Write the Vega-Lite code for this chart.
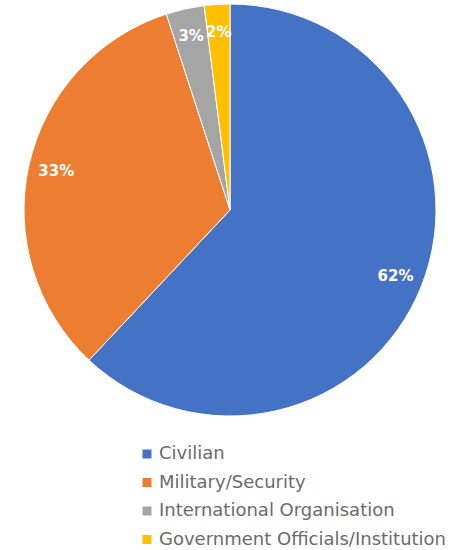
{
  "$schema": "https://vega.github.io/schema/vega-lite/v6.json",
  "width": 460,
  "height": 420,
  "padding": 0,
  "background": "white",
  "view": {"stroke": null},
  "data": {
    "values": [
      {"category": "Civilian", "value": 62, "label": "62%", "order": 1},
      {"category": "Military/Security", "value": 33, "label": "33%", "order": 2},
      {"category": "International Organisation", "value": 3, "label": "3%", "order": 3},
      {"category": "Government Officials/Institution", "value": 2, "label": "2%", "order": 4}
    ]
  },
  "encoding": {
    "theta": {"field": "value", "type": "quantitative", "stack": true},
    "order": {"field": "order", "type": "quantitative"}
  },
  "layer": [
    {
      "mark": {"type": "arc", "outerRadius": 206, "stroke": "white", "strokeWidth": 1},
      "encoding": {
        "color": {
          "field": "category",
          "type": "nominal",
          "sort": ["Civilian", "Military/Security", "International Organisation", "Government Officials/Institution"],
          "scale": {
            "domain": ["Civilian", "Military/Security", "International Organisation", "Government Officials/Institution"],
            "range": ["#4472C4", "#ED7D31", "#A5A5A5", "#FFC000"]
          },
          "legend": {
            "title": null,
            "orient": "none",
            "legendX": 138,
            "legendY": 445,
            "padding": 0,
            "symbolType": "square",
            "symbolSize": 81,
            "symbolStrokeWidth": 0,
            "labelFontSize": 18,
            "labelFont": "DejaVu Sans",
            "labelColor": "#6b6b6b",
            "labelOffset": 3,
            "rowPadding": 10.5,
            "labelLimit": 400
          }
        }
      }
    },
    {
      "mark": {"type": "text", "radius": 178, "font": "DejaVu Sans", "fontWeight": "bold", "fontSize": 15, "color": "white"},
      "encoding": {
        "text": {"field": "label", "type": "nominal"}
      }
    }
  ]
}
